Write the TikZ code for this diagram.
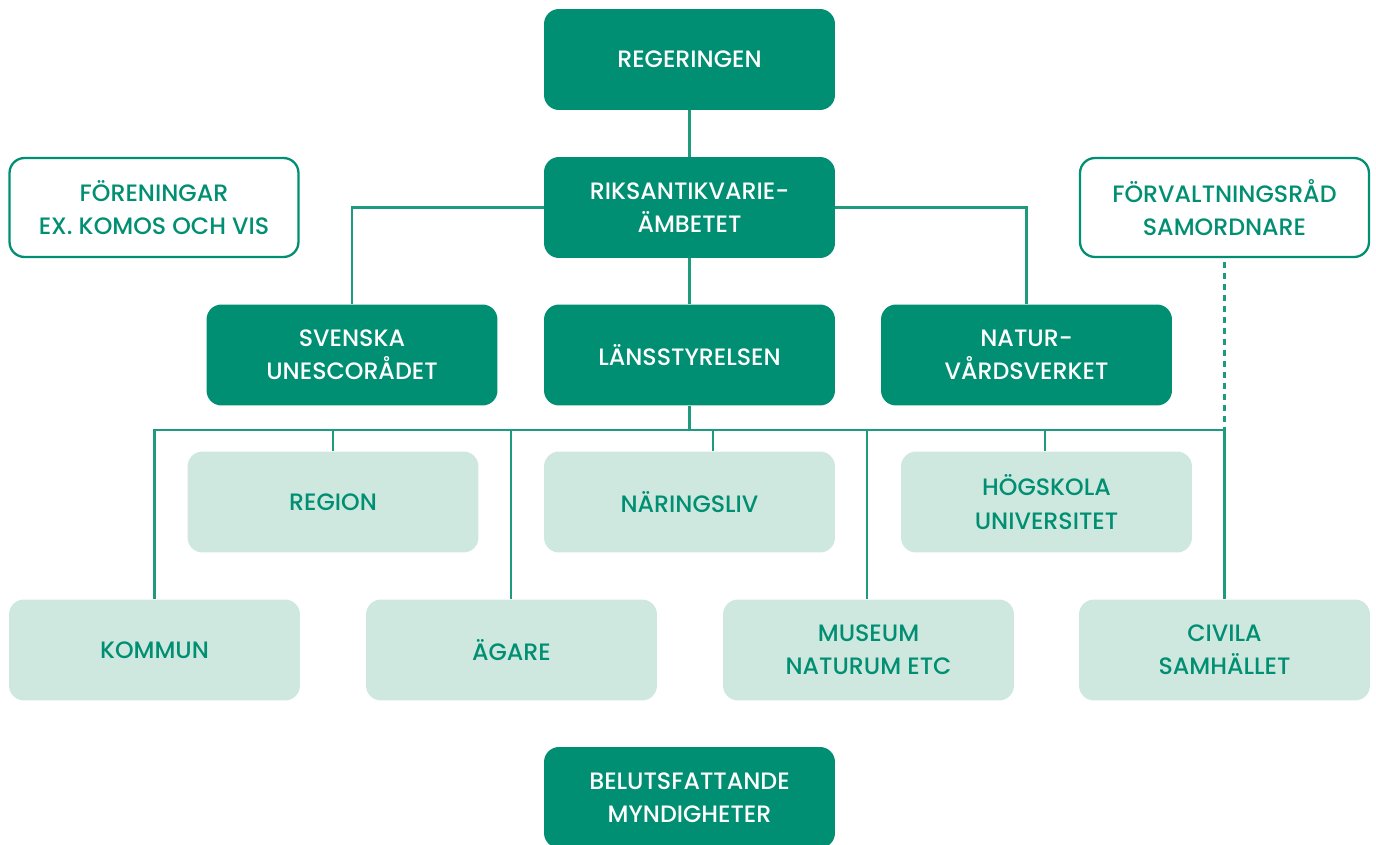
\documentclass[tikz,border=0pt]{standalone}
\usepackage{fontspec}
\setmainfont{Poppins}[UprightFont={* Medium}]
\definecolor{dgreen}{RGB}{0,143,114}
\definecolor{lgreen}{RGB}{207,232,223}
\definecolor{lcol}{RGB}{30,155,125}
\tikzset{
  box/.style={rectangle, rounded corners=0.3cm, minimum width=5.82cm, minimum height=2.02cm, inner sep=0pt, align=center, font=\fontsize{13.5}{19}\selectfont},
  darkbox/.style={box, fill=dgreen, text=white},
  lightbox/.style={box, fill=lgreen, text=dgreen},
  outlinebox/.style={box, draw=dgreen, line width=1.3pt, fill=white, text=dgreen, minimum width=5.78cm, minimum height=1.98cm},
  conn/.style={draw=lcol, line width=1.4pt},
  dconn/.style={conn, dash pattern=on 0.11cm off 0.11cm}
}
\begin{document}
\begin{tikzpicture}[x=0.02cm,y=-0.02cm]
\useasboundingbox (0,0) rectangle (1376,845);
% nodes
\node[darkbox] (reg) at (689.5,59.5) {REGERINGEN};
\node[darkbox] (raa) at (689.5,207.5) {RIKSANTIKVARIE-\\ÄMBETET};
\node[outlinebox] (for) at (154,207.5) {FÖRENINGAR\\EX. KOMOS OCH VIS};
\node[outlinebox] (fvr) at (1224.5,207.5) {FÖRVALTNINGSRÅD\\SAMORDNARE};
\node[darkbox] (sve) at (352,355) {SVENSKA\\UNESCORÅDET};
\node[darkbox] (lan) at (689.5,355) {LÄNSSTYRELSEN};
\node[darkbox] (nat) at (1026.5,355) {NATUR-\\VÅRDSVERKET};
\node[lightbox] (regn) at (333,502) {REGION};
\node[lightbox] (nar) at (689.5,502) {NÄRINGSLIV};
\node[lightbox] (hog) at (1046.5,502) {HÖGSKOLA\\UNIVERSITET};
\node[lightbox] (kom) at (154.5,650) {KOMMUN};
\node[lightbox] (aga) at (511.5,650) {ÄGARE};
\node[lightbox] (mus) at (868.5,650) {MUSEUM\\NATURUM ETC};
\node[lightbox] (civ) at (1224.5,650) {CIVILA\\SAMHÄLLET};
\node[darkbox] (bel) at (689.5,797.5) {BELUTSFATTANDE\\MYNDIGHETER};
% bus coordinates
\coordinate (busL) at (154.5,430);
\coordinate (busR) at (1224.5,430);
\coordinate (busC) at (689.5,430);
% connectors
\draw[conn] (reg.south) -- (raa.north);
\draw[conn] (raa.south) -- (lan.north);
\draw[conn] (raa.west) -| (sve.north);
\draw[conn] (raa.east) -| (nat.north);
\draw[conn] (lan.south) -- (busC);
\draw[conn] (kom.north) |- (busR);
\draw[conn] (busR) -- (civ.north);
\draw[conn] (regn.north) -- (regn.north |- busL);
\draw[conn] (aga.north -| 511,0) -- (511,430);
\draw[conn] (713,430) -- (nar.north -| 713,0);
\draw[conn] (mus.north -| 867,0) -- (867,430);
\draw[conn] (hog.north -| 1045,0) -- (1045,430);
\draw[dconn] (fvr.south) ++(0,4) -- (busR);
\end{tikzpicture}
\end{document}
